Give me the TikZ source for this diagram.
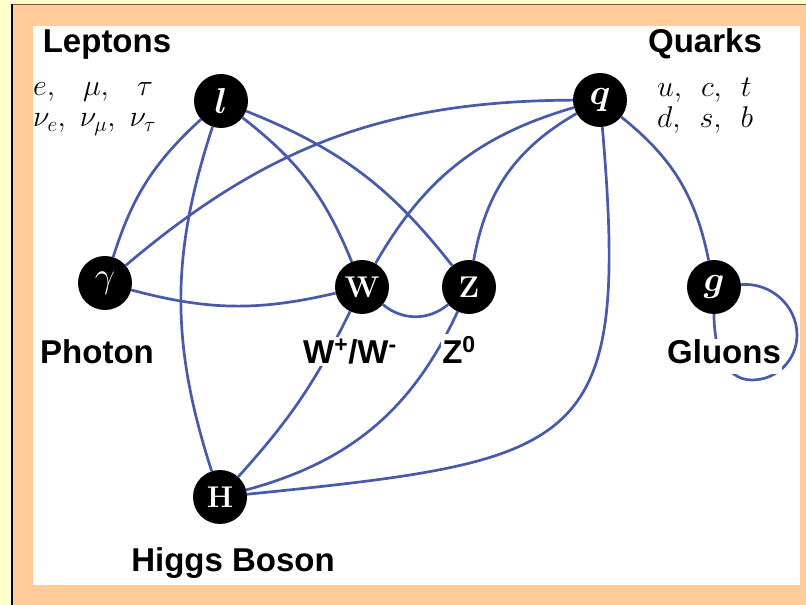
\RequirePackage{fix-cm}
\documentclass[tikz,border=0pt]{standalone}
\usepackage{bm}
\usepackage{fontspec}
\setsansfont{Liberation Sans}
\definecolor{bgyellow}{RGB}{255,255,204}
\definecolor{bgorange}{RGB}{255,204,153}
\definecolor{edgeline}{RGB}{110,95,60}
\definecolor{linkblue}{RGB}{72,90,170}
\pgfdeclarelayer{bg}
\pgfsetlayers{bg,main}
\begin{document}
\begin{tikzpicture}[x=1pt,y=1pt,
  conn/.style={line width=2.7pt, draw=linkblue},
  pnode/.style={circle, fill=black, text=white, minimum size=54pt, inner sep=0pt},
  lab/.style={font=\sffamily\bfseries\fontsize{33}{33}\selectfont, fill=white, inner sep=1.5pt, anchor=base},
  mlab/.style={font=\fontsize{30}{30}\selectfont, inner sep=0pt},
  big/.style={font=\fontsize{36}{36}\selectfont},
  mid/.style={font=\fontsize{30}{30}\selectfont\bfseries}
]
\useasboundingbox (0,0) rectangle (806,605);
% nodes
\node[pnode,big] (l) at (221,504) {$\bm{l}$};
\node[pnode,big] (q) at (600,505) {$\bm{q}$};
\node[pnode,big] (ga) at (105,322) {$\gamma$};
\node[pnode,mid] (W) at (362,318) {W};
\node[pnode,mid] (Z) at (469,318) {Z};
\node[pnode,big] (g) at (714,318) {$\bm{g}$};
\node[pnode,mid] (H) at (220,108) {H};
\coordinate (lb) at (752,225);
\coordinate (lr) at (797,270);
% labels
\node[lab] (tLep) at (107,552) {Leptons};
\node[lab] (tQua) at (705,552) {Quarks};
\node[lab] (tPho) at (97,241) {Photon};
\node[lab] (tW) at (350,241) {W\textsuperscript{+}/W\textsuperscript{-}};
\node[lab] (tZ) at (459,241) {Z\textsuperscript{0}};
\node[lab, text depth=8.5pt] (tGlu) at (724,241) {Gluons};
\node[lab] (tHig) at (233,33) {Higgs Boson};
\node[mlab, anchor=base west] (lepA) at (33,509) {$e,\ \ \,\mu,\ \ \,\tau$};
\node[mlab, anchor=base west] (lepB) at (33,478) {$\nu_e,\ \nu_\mu,\ \nu_\tau$};
\node[mlab, anchor=base west] (quaA) at (657,508) {$u,\ \,c,\ \,t$};
\node[mlab, anchor=base west] (quaB) at (657,477) {$d,\ \,s,\ \,b$};
\begin{pgfonlayer}{bg}
\fill[bgyellow] (0,0) rectangle (806,605);
\fill[bgorange] (12,0) rectangle (806,600.5);
\draw[edgeline, line width=1.5pt] (11.25,600.5) -- (806,600.5);
\draw[black, line width=1.5pt] (12,0) -- (12,601);
\fill[white] (33,20) rectangle (800,579);
\draw[conn] (l) to[bend right=15] (ga);
\draw[conn] (ga) to[bend left=20] (q);
\draw[conn] (ga) to[bend right=14] (W);
\draw[conn] (l) to[bend right=18] (H);
\draw[conn] (l) to[bend left=15] (W);
\draw[conn] (l) to[bend left=15] (Z);
\draw[conn] (q) to[bend right=22] (W);
\draw[conn] (q) to[bend right=25] (Z);
\draw[conn] (q) .. controls (630,155) and (585,145) .. (H);
\draw[conn] (q) to[bend left=20] (g);
\draw[conn] (W) to[bend right=40] (Z);
\draw[conn] (W) to[bend left=8] (H);
\draw[conn] (Z) to[bend left=25] (H);
\draw[conn] (g) to[out=-90,in=180] (lb) to[out=0,in=-90] (lr) to[out=90,in=5] (g);
\end{pgfonlayer}
\end{tikzpicture}
\end{document}
